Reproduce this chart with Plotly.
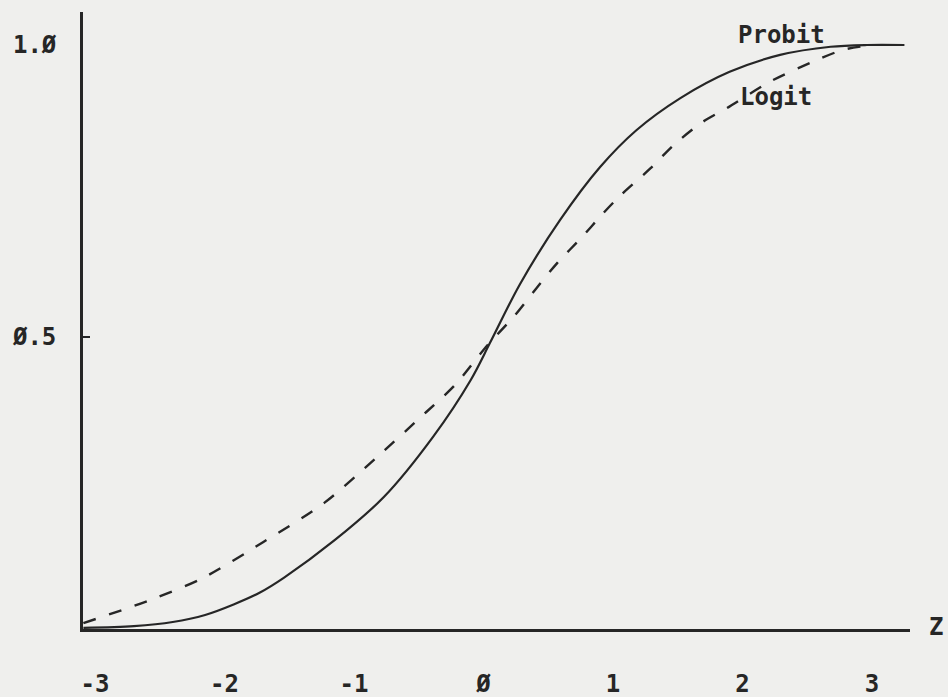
import plotly.graph_objects as go

# ---- data ----
probit_z = [-3.09, -2.70, -2.40, -2.15, -1.93, -1.73, -1.54, -1.15, -0.77, -0.39,
            -0.10, 0.05, 0.28, 0.59, 0.90, 1.18, 1.52, 1.90, 2.29, 2.68, 2.96, 3.25]
probit_p = [0.002, 0.005, 0.012, 0.024, 0.042, 0.062, 0.088, 0.152, 0.226, 0.329,
            0.426, 0.490, 0.590, 0.700, 0.791, 0.854, 0.909, 0.954, 0.983, 0.997,
            1.000, 1.000]

logit_z = [-3.09, -2.57, -2.17, -1.70, -1.23, -0.82, -0.44, -0.22, 0.03, 0.23,
           0.41, 0.57, 0.76, 0.92, 1.06, 1.29, 1.47, 1.69, 1.88, 2.21, 2.54, 2.78, 3.01]
logit_p = [0.010, 0.050, 0.087, 0.149, 0.216, 0.295, 0.372, 0.418, 0.486, 0.534,
           0.584, 0.627, 0.671, 0.711, 0.743, 0.789, 0.829, 0.868, 0.892, 0.937,
           0.971, 0.992, 1.000]

x_tickvals = [-3, -2, -1, 0, 1, 2, 3]
x_ticktext = ["-3", "-2", "-1", "Ø", "1", "2", "3"]
y_tickvals = [0.5, 1.0]
y_ticktext = ["Ø.5", "1.Ø"]

INK = "#262626"
FONT = "DejaVu Sans Mono"
BG = "#efefed"
TXT = dict(family=FONT, size=24, color=INK, weight="bold")

fig = go.Figure()
fig.add_trace(go.Scatter(x=probit_z, y=probit_p, mode="lines", name="Probit",
                         line=dict(color=INK, width=2.2, shape="spline", smoothing=0.9)))
fig.add_trace(go.Scatter(x=logit_z, y=logit_p, mode="lines", name="Logit",
                         line=dict(color=INK, width=2.4, dash="13px,14px",
                                   shape="spline", smoothing=0.8)))

fig.add_annotation(x=2.30, y=1.017, text="Probit", showarrow=False, font=TXT)
fig.add_annotation(x=2.26, y=0.911, text="Logit", showarrow=False, font=TXT)
fig.add_annotation(x=1, xref="paper", y=0, yref="y", text="Z", showarrow=False,
                   xanchor="left", xshift=17, yshift=2, font=TXT)

fig.update_layout(
    width=948, height=697,
    margin=dict(l=83, r=38, t=12, b=68, autoexpand=False),
    paper_bgcolor=BG, plot_bgcolor=BG,
    showlegend=False,
    font=TXT,
    xaxis=dict(range=[-3.093, 3.293], showgrid=False, zeroline=False,
               showline=True, linecolor=INK, linewidth=2.8, automargin=False,
               tickmode="array", tickvals=x_tickvals, ticktext=x_ticktext,
               ticks="", ticklabelstandoff=31, tickfont=TXT),
    yaxis=dict(range=[0, 1.0565], showgrid=False, zeroline=False,
               showline=True, linecolor=INK, linewidth=2.8, automargin=False,
               tickmode="array", tickvals=y_tickvals, ticktext=y_ticktext,
               ticks="", ticklabelstandoff=19, tickfont=TXT,
               minor=dict(tickmode="array", tickvals=[0.5], ticks="inside",
                          ticklen=7, tickwidth=2, tickcolor=INK)),
)

fig.write_html(
    "out.html",
    config={"displayModeBar": False},
    post_script="document.body.style.margin='0';document.body.style.overflow='hidden';",
)
